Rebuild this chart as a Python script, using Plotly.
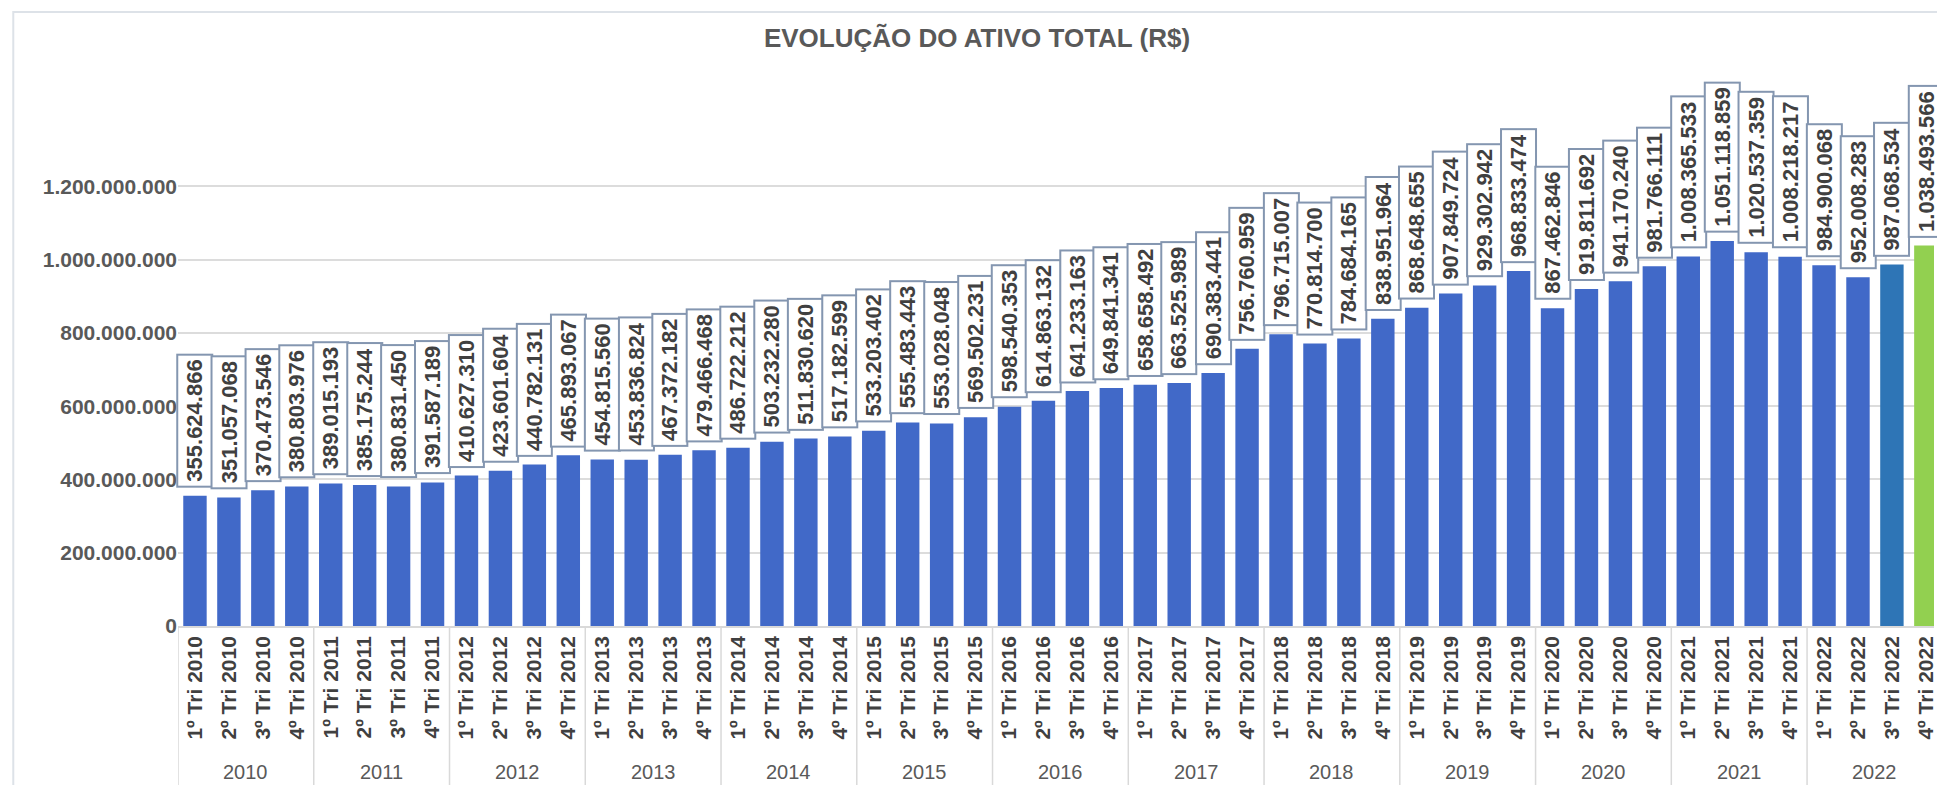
# Evolução do ativo total (R$) - barras trimestrais com rótulos em caixa

import plotly.graph_objects as go

ANOS = ['2010', '2011', '2012', '2013', '2014', '2015', '2016',
        '2017', '2018', '2019', '2020', '2021', '2022']
TRIMESTRES = ['1º Tri', '2º Tri', '3º Tri', '4º Tri']

ATIVO = [
    355624866, 351057068, 370473546, 380803976,
    389015193, 385175244, 380831450, 391587189,
    410627310, 423601604, 440782131, 465893067,
    454815560, 453836824, 467372182, 479466468,
    486722212, 503232280, 511830620, 517182599,
    533203402, 555483443, 553028048, 569502231,
    598540353, 614863132, 641233163, 649841341,
    658658492, 663525989, 690383441, 756760959,
    796715007, 770814700, 784684165, 838951964,
    868648655, 907849724, 929302942, 968833474,
    867462846, 919811692, 941170240, 981766111,
    1008365533, 1051118859, 1020537359, 1008218217,
    984900068, 952008283, 987068534, 1038493566,
]

Y_TICKS = [0, 200000000, 400000000, 600000000, 800000000, 1000000000, 1200000000]

AZUL = '#4169c8'
DESTAQUES = {50: '#2e75b6', 51: '#92d050'}
CINZA = '#595959'
TEXTO = '#404040'
FONTE = 'Liberation Sans'

# geometria (px)
W, H = 1937, 785
ML, MR, MT, MB = 178, 0, 60, 159
PH = H - MT - MB
Y_EIXO = H - MB


def fmt_br(v):
    return f'{v:,}'.replace(',', '.')


rotulos_x = [f'{t} {a}' for a in ANOS for t in TRIMESTRES]
idx = list(range(len(ATIVO)))
cores = [DESTAQUES.get(i, AZUL) for i in idx]

fig = go.Figure(go.Bar(
    x=idx,
    y=ATIVO,
    marker=dict(color=cores, line=dict(width=0)),
    hoverinfo='skip',
))

# rótulos com caixa
for i, v in zip(idx, ATIVO):
    fig.add_annotation(
        x=i, y=v, xref='x', yref='y',
        text=fmt_br(v), textangle=-90,
        showarrow=False, yanchor='bottom', xanchor='center', yshift=8,
        font=dict(family=FONTE, size=22, color=TEXTO, weight='bold'),
        bgcolor='white', bordercolor='#8496b0', borderwidth=2, borderpad=4,
    )

# anos e divisores
n_tri = len(TRIMESTRES)
y_fundo = -MB / PH
for k, ano in enumerate(ANOS):
    fig.add_shape(type='line', xref='x', yref='paper',
                  x0=k * n_tri - 0.5, x1=k * n_tri - 0.5, y0=0, y1=y_fundo,
                  line=dict(color='#d9d9d9', width=1.5))
    fig.add_annotation(
        x=k * n_tri + (n_tri - 1) / 2, y=-(759 - Y_EIXO) / PH,
        xref='x', yref='paper', text=ano, showarrow=False,
        yanchor='top', font=dict(family=FONTE, size=20, color=CINZA),
    )

# moldura externa
fig.add_shape(type='rect', xref='paper', yref='paper',
              x0=(13 - ML) / (W - ML - MR), x1=1.05,
              y0=y_fundo - 0.05, y1=(Y_EIXO - 12) / PH,
              line=dict(color='#dde2e8', width=2), layer='below')

fig.update_layout(
    width=W, height=H,
    margin=dict(l=ML, r=MR, t=MT, b=MB),
    paper_bgcolor='white', plot_bgcolor='white',
    bargap=0.31,
    showlegend=False,
    title=dict(
        text='EVOLUÇÃO DO ATIVO TOTAL (R$)',
        x=977 / W, y=1 - 38 / H, xanchor='center', yanchor='middle',
        xref='container', yref='container',
        font=dict(family=FONTE, size=26, color=CINZA, weight='bold'),
    ),
)
fig.update_xaxes(
    range=[-0.5, 51.24],
    tickvals=idx, ticktext=rotulos_x, tickangle=-90,
    tickfont=dict(family=FONTE, size=21, color=TEXTO, weight='bold'),
    ticklabeloverflow='allow',
    showgrid=False, showline=True, linecolor='#d9d9d9', linewidth=1.5,
    ticks='', zeroline=False,
)
fig.update_yaxes(
    range=[0, 1.545e9],
    tickvals=Y_TICKS, ticktext=[fmt_br(v) for v in Y_TICKS],
    tickfont=dict(family=FONTE, size=21, color=CINZA, weight='bold'),
    showgrid=True, gridcolor='#dcdcdc', gridwidth=1.5,
    zeroline=False, ticks='',
)

fig.write_html('out.html', config={'displayModeBar': False},
               post_script="document.body.style.margin='0';")
